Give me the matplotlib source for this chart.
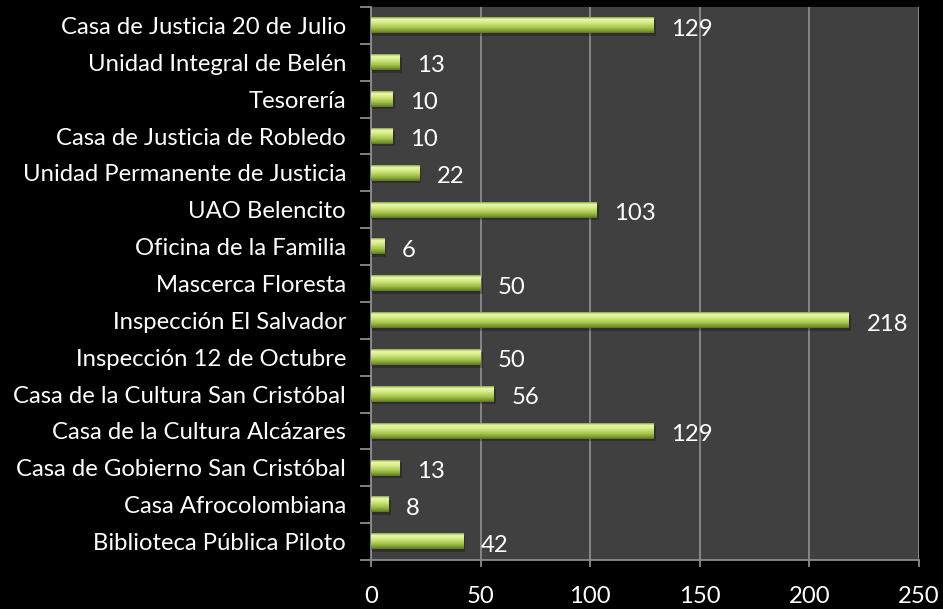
import matplotlib
matplotlib.use("Agg")
import matplotlib.pyplot as plt
import numpy as np
from matplotlib.colors import LinearSegmentedColormap

categories = [
    "Biblioteca Pública Piloto",
    "Casa Afrocolombiana",
    "Casa de Gobierno San Cristóbal",
    "Casa de la Cultura Alcázares",
    "Casa de la Cultura San Cristóbal",
    "Inspección 12 de Octubre",
    "Inspección El Salvador",
    "Mascerca Floresta",
    "Oficina de la Familia",
    "UAO Belencito",
    "Unidad Permanente de Justicia",
    "Casa de Justicia de Robledo",
    "Tesorería",
    "Unidad Integral de Belén",
    "Casa de Justicia 20 de Julio",
]
values = [42, 8, 13, 129, 56, 50, 218, 50, 6, 103, 22, 10, 10, 13, 129]
xticks = [0, 50, 100, 150, 200, 250]

plt.rcParams['font.family'] = ['Lato', 'DejaVu Sans']
FS = 17.2

fig = plt.figure(figsize=(9.43, 6.09), dpi=100, facecolor='black')
ax = fig.add_axes([371/943, 1-560/609, (919-371)/943, (560-7)/609])
ax.set_facecolor('#404040')

cmap = LinearSegmentedColormap.from_list('bar', [
    (0.0, '#7f9a35'), (0.12, '#ecf9ad'), (0.35, '#d6eb86'),
    (0.65, '#a8c64e'), (0.88, '#7c9a30'), (1.0, '#5a7220')])
grad = np.linspace(0, 1, 64).reshape(-1, 1)

h = 0.42
n = len(categories)
ys = np.arange(n)
ax.set_xlim(0, 250)
ax.set_ylim(-0.5, n - 0.5)

for y, v in zip(ys, values):
    # shadow
    ax.barh(y - 0.07, v + 1.0, height=h, left=0, color='black', alpha=0.25, zorder=2, linewidth=0)
    ax.imshow(grad, cmap=cmap, aspect='auto', extent=(0, v, y - h/2, y + h/2),
              zorder=3, interpolation='bicubic')
    ax.text(v + 8, y - 0.1, str(v), color='white', fontsize=FS,
            ha='left', va='center', zorder=4)

ax.set_xlim(0, 250)
ax.set_ylim(-0.5, n - 0.5)

ax.set_xticks(xticks)
ax.set_xticklabels([str(t) for t in xticks])
ax.grid(axis='x', color='#8c8c8c', linewidth=1.3, zorder=1)
ax.set_axisbelow(True)

ax.set_yticks(ys)
ax.set_yticklabels(categories)
ax.set_yticks(np.arange(-0.5, n, 1), minor=True)
ax.tick_params(axis='y', which='major', length=0, pad=18, colors='white', labelsize=FS)
ax.tick_params(axis='y', which='minor', length=8, width=1.3, color='#8c8c8c')
ax.tick_params(axis='x', which='major', length=5, width=1.3, color='#8c8c8c',
               pad=14, labelcolor='white', labelsize=FS)

for s in ['top', 'right']:
    ax.spines[s].set_visible(False)
for s in ['left', 'bottom']:
    ax.spines[s].set_color('#8c8c8c')
    ax.spines[s].set_linewidth(1.3)

fig.savefig('out.png', dpi=100, facecolor='black')
